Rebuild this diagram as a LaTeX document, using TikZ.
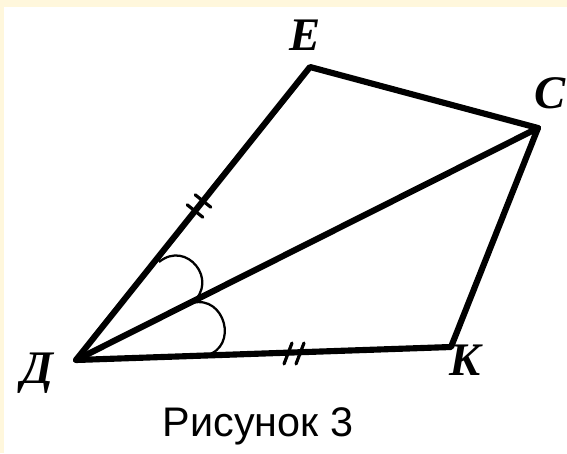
\documentclass[tikz,border=0pt]{standalone}
\usepackage{fontspec}
\setmainfont{Liberation Serif}
\newfontfamily\capfont{Liberation Sans}
\definecolor{cream}{RGB}{255,247,220}
\begin{document}
\begin{tikzpicture}[x=0.75pt,y=-0.75pt,
  edge/.style={line width=4.6pt, line join=round, line cap=round},
  anglemark/.style={line width=1.7pt},
  tickmark/.style={line width=2.4pt, line cap=round},
  vlabel/.style={font=\fontsize{35}{35}\selectfont\bfseries\itshape, inner sep=0pt},
  caption/.style={font=\capfont\fontsize{31}{31}\selectfont, inner sep=0pt}]
\useasboundingbox (0,0) rectangle (567,453);
\fill[white] (0,0) rectangle (567,453);
\fill[cream] (0,0) rectangle (567,7);
\fill[cream] (0,0) rectangle (4,453);
% vertices
\coordinate (D) at (76,360);
\coordinate (E) at (310,67);
\coordinate (C) at (538,128);
\coordinate (K) at (451,347);
% sides and diagonal
\draw[edge] (D) -- (E) -- (C) -- (K) -- cycle;
\draw[edge] (D) -- (C);
% angle marks
\coordinate (a1) at (159,262);
\coordinate (a2) at (192,303);
\coordinate (a3) at (206,355.5);
\draw[anglemark] (a1) .. controls (186.5,239.5) and (219.5,280.5) .. (a2);
\draw[anglemark] (a2) .. controls (225,294.5) and (239,347) .. (a3);
% equal-length ticks
\draw[tickmark] (187.2,204.8) -- (202.8,217.2);
\draw[tickmark] (195.2,194.8) -- (210.8,207.2);
\draw[tickmark] (284,364) -- (292,343);
\draw[tickmark] (296,364) -- (304,343);
% labels
\node[vlabel] (lE) at (305,35) {E};
\node[vlabel] (lC) at (550,93) {C};
\node[vlabel] (lD) at (37,373) {Д};
\node[vlabel] (lK) at (465,360) {K};
\node[caption, anchor=base] (cap) at (258,436) {Рисунок 3};
\end{tikzpicture}
\end{document}
